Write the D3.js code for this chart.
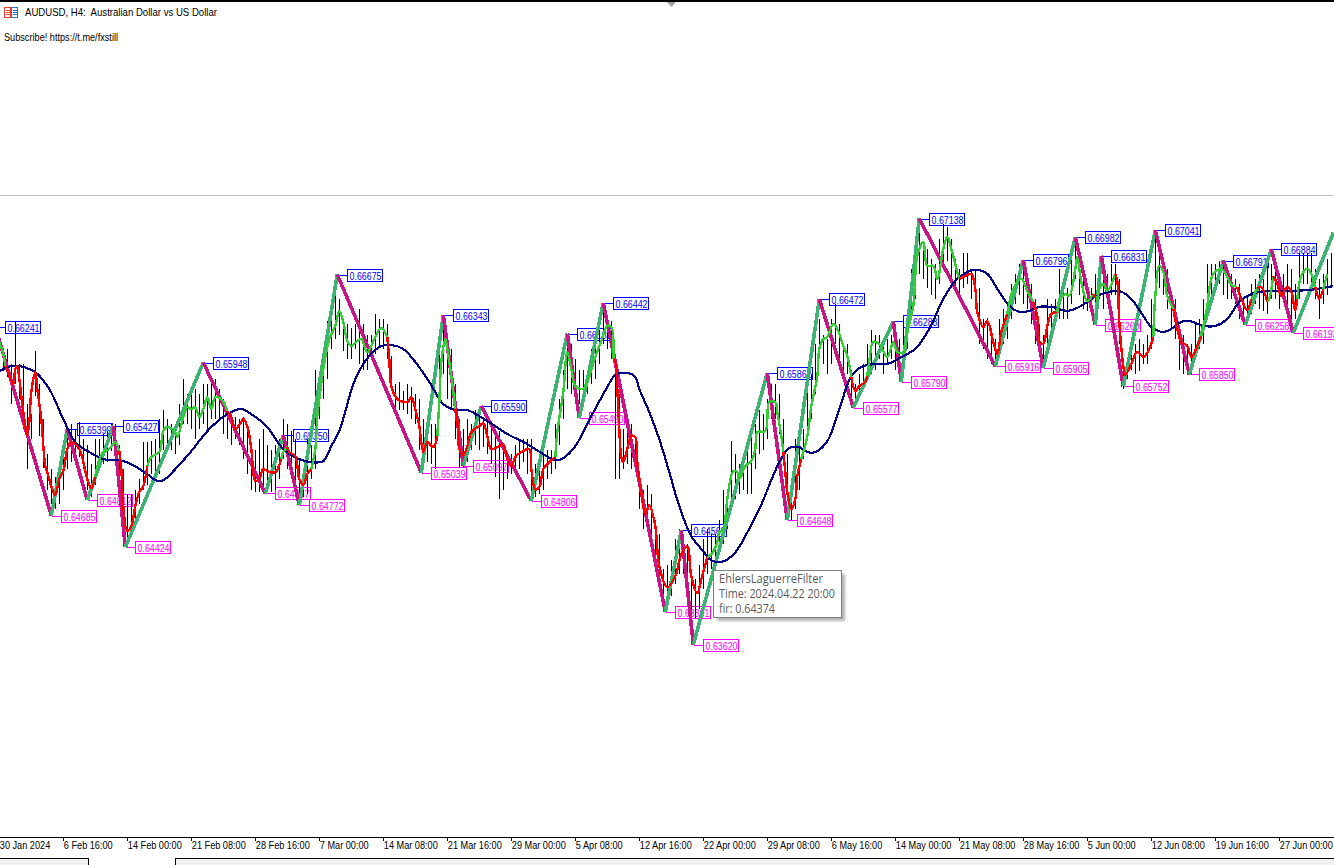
<!DOCTYPE html>
<html>
<head>
<meta charset="utf-8">
<title>AUDUSD, H4</title>
<script src="https://d3js.org/d3.v7.min.js"></script>
<style>
html, body { margin: 0; padding: 0; background: #fff; overflow: hidden; }
svg { display: block; }
text { font-family: "Liberation Sans", sans-serif; }
.crisp { shape-rendering: crispEdges; }
</style>
</head>
<body>
<svg width="1334" height="865"></svg>
<script>
// time axis, one label every 32 H4 bars
var tickLabels = ["30 Jan 2024", "6 Feb 16:00", "14 Feb 00:00", "21 Feb 08:00", "28 Feb 16:00", "7 Mar 00:00", "14 Mar 08:00",
  "21 Mar 16:00", "29 Mar 00:00", "5 Apr 08:00", "12 Apr 16:00", "22 Apr 00:00", "29 Apr 08:00", "6 May 16:00", "14 May 00:00",
  "21 May 08:00", "28 May 16:00", "5 Jun 00:00", "12 Jun 08:00", "19 Jun 16:00", "27 Jun 00:00"];
var tickBars = [0, 32, 64, 96, 128, 160, 192, 224, 256, 288, 320, 352, 384, 416, 448, 480, 512, 544, 576, 608, 640];

// zigzag pivots, high first, then alternating. The last point has no label
var pivotBars = [-2, 26, 34, 44, 57, 63, 102, 133, 142, 150, 169, 211, 222, 232, 241, 266, 284, 290, 302, 333, 341, 347, 384, 394, 410, 427, 447, 451, 460,
  498, 512, 522, 538, 548, 551, 562, 578, 595, 612, 623, 636, 647, 667];
var pivotPrices = [0.66241, 0.64685, 0.65399, 0.64812, 0.65427, 0.64424, 0.65948, 0.64867, 0.65350, 0.64772, 0.66675, 0.65039, 0.66343, 0.65097, 0.65590,
  0.64806, 0.66188, 0.65490, 0.66442, 0.63891, 0.64562, 0.63620, 0.65862, 0.64648, 0.66472, 0.65577, 0.66288, 0.65790, 0.67138,
  0.65916, 0.66796, 0.65905, 0.66982, 0.66260, 0.66831, 0.65752, 0.67041, 0.65850, 0.66791, 0.66258, 0.66884, 0.66193, 0.67020];

// slow navy line
var slowBars = [0, 6, 10, 15, 18, 25, 32, 38, 45, 52, 60, 66, 74, 78, 82, 88, 96, 105, 114, 121, 126, 134, 142, 150, 156, 162, 166, 170, 178, 185, 191, 196,
  202, 208, 215, 222, 228, 234, 244, 254, 264, 272, 278, 282, 288, 296, 304, 308, 314, 318, 320, 325, 330, 335, 340, 346, 352, 356, 362, 368, 374, 380, 390, 395,
  400, 404, 408, 414, 420, 426, 431, 438, 444, 452, 458, 465, 472, 478, 484, 488, 494, 499, 505, 510, 515, 520, 526, 534, 540, 548, 555, 560, 566, 572, 576, 582,
  586, 591, 595, 602, 608, 614, 620, 626, 634, 644, 655, 667];
var slowPrices = [0.65878, 0.65920, 0.65920, 0.65895, 0.65870, 0.65730, 0.65481, 0.65291, 0.65209, 0.65151, 0.65142, 0.65109, 0.65027, 0.64977, 0.64977, 0.65068,
  0.65217, 0.65399, 0.65523, 0.65564, 0.65523, 0.65415, 0.65233, 0.65151, 0.65125, 0.65134, 0.65258, 0.65382, 0.65812, 0.66003, 0.66085, 0.66093,
  0.66060, 0.65953, 0.65788, 0.65606, 0.65556, 0.65556, 0.65465, 0.65358, 0.65275, 0.65192, 0.65142, 0.65159, 0.65258, 0.65506, 0.65746, 0.65845, 0.65862, 0.65829,
  0.65730, 0.65539, 0.65316, 0.65043, 0.64762, 0.64514, 0.64390, 0.64315, 0.64307, 0.64381, 0.64546, 0.64737, 0.65125, 0.65242,
  0.65250, 0.65209, 0.65209, 0.65299, 0.65564, 0.65837, 0.65912, 0.65936, 0.65936, 0.66003, 0.66061, 0.66226, 0.66474, 0.66623, 0.66697, 0.66714, 0.66681, 0.66557,
  0.66416, 0.66367, 0.66375, 0.66408, 0.66408, 0.66375, 0.66408, 0.66491, 0.66532, 0.66540, 0.66474, 0.66333, 0.66242, 0.66201,
  0.66226, 0.66284, 0.66292, 0.66251, 0.66251, 0.66308, 0.66449, 0.66515, 0.66540, 0.66540, 0.66548, 0.66581];

// fast filter line, and the bars where it switches colour (starts green)
var fastBars = [0, 2, 3, 5, 7, 8, 9, 10, 12, 14, 15, 16, 18, 19, 21, 23, 24, 26, 28, 30, 32, 34, 36, 39, 41, 44, 46, 48, 50, 52, 55, 58, 60, 61, 62, 64, 66, 68, 70, 72, 74,
  76, 80, 82, 84, 88, 89, 92, 94, 96, 98, 100, 102, 104, 106, 108, 111, 114, 116, 118, 121, 122, 124, 126, 128, 130, 132, 135, 138, 141, 142, 144, 145, 148, 150, 152, 154, 156,
  158, 159, 160, 162, 165, 168, 170, 172, 174, 176, 179, 181, 184, 188, 191, 194, 195, 196, 199, 204, 206, 208, 210, 212, 214, 217, 219, 220, 221, 223, 224, 226, 228,
  229, 230, 232, 234, 236, 240, 242, 244, 246, 250, 252, 254, 256, 258, 261, 265, 266, 268, 270, 272, 275, 278, 279, 282, 284, 286, 288, 292, 294, 298, 301, 304, 306, 307,
  308, 309, 310, 311, 312, 314, 316, 318, 319, 321, 323, 325, 328, 330, 334, 338, 341, 344, 346, 349, 351, 354, 356, 359, 360, 362, 364, 367, 369, 370, 373, 376, 378, 379, 383, 385, 388, 389, 391, 392,
  393, 394, 396, 398, 399, 401, 404, 406, 409, 410, 412, 414, 417, 419, 422, 424, 426, 428, 430, 433, 434, 435, 437, 440, 444, 447, 449, 452, 454, 457, 459, 462, 464, 467, 469, 472, 474, 476, 479, 480,
  483, 486, 488, 489, 492, 494, 497, 499, 501, 504, 507, 511, 514, 517, 519, 520, 522, 524, 526, 529, 530, 533, 535, 538, 539, 541, 544, 547, 549, 550, 552, 554, 558,
  559, 560, 562, 563, 566, 569, 572, 575, 577, 578, 580, 582, 584, 587, 589, 591, 594, 596, 599, 601, 604, 605, 607, 611, 614, 616, 619, 621, 624, 626, 629, 631, 634, 635, 637, 639, 641, 644, 646, 648, 649,
  651, 654, 656, 658, 660, 662, 664, 667];
var fastPrices = [0.66118, 0.66019, 0.65920, 0.65837, 0.65771, 0.65895, 0.65920, 0.65812, 0.65539, 0.65349, 0.65457, 0.65705, 0.65870, 0.65730, 0.65481, 0.65093, 0.65043, 0.64928, 0.64853, 0.64986, 0.65052, 0.65234, 0.65291, 0.65258, 0.65192, 0.64986, 0.64911, 0.65002,
  0.65151, 0.65209, 0.65234, 0.65291, 0.65217, 0.65068, 0.64762, 0.64555, 0.64597, 0.64762, 0.64878, 0.64928, 0.65093,
  0.65168, 0.65209, 0.65382, 0.65416, 0.65374, 0.65333, 0.65498, 0.65581, 0.65564, 0.65581, 0.65498, 0.65564, 0.65663, 0.65564, 0.65663, 0.65647, 0.65548, 0.65498, 0.65399, 0.65457, 0.65481, 0.65423, 0.65234, 0.64969, 0.64986, 0.65068, 0.65043, 0.65043, 0.65151, 0.65209, 0.65250, 0.65209, 0.65176, 0.64986, 0.64936, 0.65027, 0.65068,
  0.65234, 0.65506, 0.65647, 0.65895, 0.66143, 0.66251, 0.66375, 0.66284, 0.66127, 0.66085, 0.66127, 0.66143, 0.66036, 0.66160, 0.66234, 0.66160, 0.65978, 0.65755, 0.65647, 0.65622, 0.65663, 0.65564, 0.65424, 0.65209, 0.65291, 0.65250, 0.65341, 0.65622, 0.65953, 0.66143, 0.66061, 0.65837, 0.65564,
  0.65481, 0.65234, 0.65184, 0.65258, 0.65374, 0.65424, 0.65448, 0.65341, 0.65234, 0.65258, 0.65275, 0.65151, 0.65093, 0.65168, 0.65209, 0.65234, 0.65068, 0.64902, 0.64919, 0.65068, 0.65126, 0.65168, 0.65374, 0.65705, 0.66036, 0.65895, 0.65755, 0.65730, 0.65788, 0.65994, 0.66127, 0.66251, 0.66242, 0.65978,
  0.65961, 0.65730, 0.65399, 0.65167, 0.65126, 0.65234, 0.65341, 0.65333, 0.65126, 0.64878, 0.64696, 0.64770, 0.64596, 0.64265, 0.64092, 0.64183, 0.64365, 0.64431, 0.64183, 0.64042, 0.64158, 0.64340, 0.64365, 0.64464, 0.64547, 0.64571, 0.64820, 0.65052, 0.65043, 0.64986, 0.65093, 0.65134, 0.65234, 0.65374, 0.65382, 0.65622, 0.65622, 0.65539, 0.65341, 0.65209,
  0.65043, 0.64878, 0.64737, 0.64820, 0.65010, 0.65151, 0.65341, 0.65589, 0.65837, 0.66061, 0.66143, 0.66160, 0.66267, 0.66226, 0.66085, 0.66003, 0.65829, 0.65713, 0.65754, 0.65787, 0.65837, 0.65961, 0.66118, 0.66102, 0.65994, 0.66118, 0.66036, 0.66036, 0.66201, 0.66416, 0.66829, 0.66945, 0.66747, 0.66747, 0.66639, 0.66887, 0.66987, 0.66887, 0.66697, 0.66639,
  0.66664, 0.66681, 0.66557, 0.66367, 0.66242, 0.66292, 0.66118, 0.66019, 0.66201, 0.66350, 0.66557, 0.66639, 0.66540, 0.66449, 0.66333, 0.66127, 0.66102, 0.66251, 0.66350, 0.66366, 0.66449, 0.66515, 0.66498, 0.66722, 0.66821, 0.66615, 0.66457, 0.66515, 0.66457, 0.66557, 0.66598, 0.66540, 0.66681,
  0.66623, 0.66284, 0.65920, 0.65846, 0.65936, 0.66036, 0.65994, 0.66061, 0.66160, 0.66499, 0.66747, 0.66697, 0.66499, 0.66391, 0.66226, 0.66118, 0.66085, 0.65994, 0.66085, 0.66168, 0.66416, 0.66557, 0.66681, 0.66722, 0.66656, 0.66590, 0.66573, 0.66474, 0.66383, 0.66474, 0.66557, 0.66573, 0.66449, 0.66474, 0.66664, 0.66598, 0.66499, 0.66573, 0.66532, 0.66375, 0.66474,
  0.66664, 0.66722, 0.66681, 0.66573, 0.66474, 0.66557, 0.66681, 0.66739];
var fastFlips = [5, 50, 61, 76, 116, 142, 145, 158, 195, 220, 229, 279, 308, 356, 393, 404, 428, 435, 483, 507, 519, 530, 549, 550, 559, 578, 589, 604, 621, 629, 631, 635, 639, 651, 660, 664];

// price sticks, every second bar, in 1/10000
var stickHigh = [6612, 6606, 6606, 6594, 6628, 6594, 6594, 6561, 6552, 6604, 6577, 6548, 6519, 6507, 6500, 6511, 6527, 6538, 6544, 6540, 6546, 6532, 6527, 6511, 6532, 6532, 6536, 6538, 6545, 6544,
  6527, 6507, 6486, 6486, 6490, 6499, 6529, 6529, 6530, 6532, 6548, 6556, 6548, 6544, 6544, 6561, 6581, 6569, 6569, 6573, 6569, 6577, 6577, 6579, 6581, 6573, 6565, 6556, 6552, 6550,
  6548, 6550, 6544, 6527, 6523, 6532, 6540, 6527, 6523, 6527, 6532, 6548, 6544, 6538, 6532, 6515, 6505, 6532, 6527, 6589, 6581, 6606, 6629, 6635, 6656, 6647, 6631, 6627, 6623, 6627,
  6639, 6627, 6618, 6618, 6635, 6631, 6631, 6627, 6600, 6577, 6579, 6571, 6577, 6575, 6569, 6565, 6548, 6544, 6544, 6544, 6614, 6632, 6618, 6606, 6577, 6548, 6540, 6548, 6544, 6556,
  6552, 6548, 6548, 6540, 6540, 6538, 6527, 6519, 6519, 6527, 6532, 6532, 6532, 6532, 6511, 6511, 6523, 6523, 6523, 6544, 6565, 6589, 6614, 6610, 6598, 6589, 6589, 6589, 6606, 6618,
  6631, 6639, 6631, 6629, 6598, 6569, 6540, 6552, 6544, 6532, 6499, 6490, 6494, 6486, 6465, 6453, 6424, 6428, 6432, 6449, 6457, 6453, 6445, 6424, 6416, 6428, 6449, 6457, 6453, 6453,
  6465, 6490, 6490, 6530, 6519, 6511, 6519, 6523, 6540, 6544, 6556, 6552, 6565, 6577, 6577, 6569, 6548, 6519, 6499, 6532, 6527, 6540, 6573, 6585, 6610, 6631, 6618, 6614, 6631, 6643,
  6627, 6610, 6610, 6589, 6577, 6585, 6594, 6610, 6622, 6618, 6618, 6614, 6614, 6618, 6610, 6614, 6631, 6639, 6672, 6693, 6709, 6693, 6689, 6680, 6676, 6697, 6709, 6707, 6697, 6680,
  6672, 6685, 6685, 6672, 6672, 6656, 6631, 6632, 6623, 6614, 6631, 6639, 6643, 6660, 6668, 6676, 6672, 6668, 6660, 6647, 6627, 6618, 6647, 6643, 6647, 6672, 6660, 6656, 6685, 6697,
  6685, 6664, 6660, 6656, 6668, 6672, 6668, 6668, 6676, 6676, 6664, 6598, 6598, 6610, 6610, 6614, 6610, 6618, 6647, 6697, 6689, 6676, 6672, 6651, 6647, 6623, 6618, 6610, 6610, 6627,
  6631, 6647, 6676, 6676, 6676, 6679, 6676, 6672, 6668, 6664, 6660, 6647, 6651, 6660, 6664, 6668, 6664, 6676, 6676, 6676, 6664, 6668, 6676, 6672, 6660, 6685, 6685, 6685, 6685, 6672,
  6664, 6668, 6680, 6685];
var stickLow = [6587, 6588, 6583, 6561, 6577, 6565, 6540, 6507, 6532, 6567, 6534, 6508, 6490, 6478, 6474, 6478, 6490, 6507, 6513, 6519, 6517, 6507, 6490, 6484, 6494, 6507, 6511, 6513, 6522, 6515,
  6482, 6457, 6445, 6453, 6465, 6478, 6490, 6494, 6503, 6500, 6503, 6523, 6527, 6523, 6519, 6527, 6544, 6544, 6540, 6532, 6540, 6544, 6540, 6548, 6548, 6548, 6536, 6532, 6527, 6532,
  6527, 6515, 6503, 6490, 6488, 6488, 6490, 6490, 6488, 6490, 6499, 6515, 6507, 6499, 6486, 6478, 6484, 6486, 6499, 6507, 6548, 6565, 6581, 6606, 6614, 6618, 6604, 6598, 6598, 6606,
  6594, 6589, 6589, 6598, 6602, 6608, 6606, 6598, 6573, 6555, 6556, 6556, 6552, 6548, 6544, 6523, 6507, 6513, 6511, 6507, 6565, 6585, 6565, 6556, 6532, 6508, 6508, 6513, 6523, 6527,
  6523, 6525, 6519, 6511, 6500, 6482, 6490, 6499, 6503, 6507, 6507, 6513, 6503, 6484, 6484, 6486, 6490, 6499, 6503, 6507, 6527, 6548, 6573, 6569, 6569, 6561, 6567, 6569, 6577, 6581,
  6594, 6610, 6606, 6598, 6499, 6499, 6507, 6511, 6507, 6507, 6474, 6457, 6470, 6453, 6428, 6412, 6395, 6399, 6402, 6412, 6420, 6420, 6408, 6384, 6383, 6391, 6408, 6420, 6424, 6428,
  6441, 6445, 6457, 6478, 6482, 6486, 6490, 6486, 6486, 6507, 6519, 6523, 6532, 6548, 6548, 6536, 6515, 6482, 6465, 6474, 6490, 6515, 6532, 6548, 6569, 6598, 6594, 6585, 6594, 6610,
  6598, 6585, 6585, 6563, 6565, 6569, 6577, 6585, 6585, 6589, 6598, 6585, 6594, 6598, 6589, 6585, 6594, 6606, 6631, 6647, 6668, 6664, 6656, 6651, 6647, 6660, 6676, 6679, 6664, 6656,
  6650, 6656, 6660, 6647, 6639, 6610, 6606, 6598, 6594, 6594, 6602, 6610, 6614, 6631, 6643, 6651, 6643, 6639, 6627, 6610, 6606, 6596, 6606, 6618, 6627, 6631, 6631, 6631, 6643, 6664,
  6651, 6639, 6637, 6639, 6631, 6647, 6639, 6643, 6651, 6651, 6610, 6573, 6581, 6589, 6585, 6588, 6594, 6594, 6606, 6643, 6656, 6651, 6639, 6623, 6614, 6589, 6585, 6589, 6585, 6598,
  6606, 6610, 6639, 6651, 6656, 6660, 6651, 6647, 6647, 6643, 6631, 6627, 6631, 6635, 6643, 6639, 6637, 6635, 6647, 6647, 6639, 6647, 6643, 6627, 6631, 6647, 6660, 6660, 6656, 6647,
  6631, 6643, 6651, 6656];

var svg = d3.select("svg");

var x = d3.scaleLinear().domain([0, 667]).range([-0.7, 1333.3]);
var y = d3.scaleLinear().domain(d3.extent(pivotPrices.slice(0, -1))).range([644.5, 218.5]);

// helper, width forces the text into the size it has in the window font
function label(parent, tx, ty, str, width, size, colour) {
  return parent.append("text")
    .attr("x", tx).attr("y", ty)
    .attr("font-size", size)
    .attr("fill", colour)
    .attr("textLength", width)
    .attr("lengthAdjust", "spacingAndGlyphs")
    .attr("xml:space", "preserve")
    .text(str);
}

// window furniture
svg.append("rect").attr("class", "crisp").attr("x", 0).attr("y", 0).attr("width", 1334).attr("height", 2).attr("fill", "#000");
svg.append("path").attr("d", "M667,2 L676,2 L671.5,7 Z").attr("fill", "#a0a0a0");
svg.append("rect").attr("class", "crisp").attr("x", 0).attr("y", 195).attr("width", 1334).attr("height", 1).attr("fill", "#c0c0c0");

// header icon
var icon = svg.append("g").attr("class", "crisp");
icon.append("rect").attr("x", 4.5).attr("y", 7.5).attr("width", 6).attr("height", 10).attr("fill", "#fff").attr("stroke", "#e8402a");
icon.append("rect").attr("x", 11.5).attr("y", 7.5).attr("width", 6).attr("height", 10).attr("fill", "#fff").attr("stroke", "#1f78c8");
[10, 12, 14].forEach(function(ly) {
  icon.append("rect").attr("x", 6).attr("y", ly).attr("width", 4).attr("height", 1).attr("fill", "#e8402a");
  icon.append("rect").attr("x", 13).attr("y", ly).attr("width", 4).attr("height", 1).attr("fill", "#1f78c8");
});

label(svg, 25, 16, "AUDUSD, H4:  Australian Dollar vs US Dollar", 192, 11, "#000");
label(svg, 4, 41, "Subscribe! https://t.me/fxstill", 114, 11, "#000");

// pivot labels go under everything else
var pivots = pivotBars.slice(0, -1).map(function(b, i) {
  return {bar: b, price: pivotPrices[i], high: i % 2 === 0};
});
var tags = svg.append("g").selectAll("g").data(pivots).enter().append("g");
tags.each(function(d) {
  var g = d3.select(this),
      px = Math.round(x(d.bar)) + 0.5,
      py = Math.round(y(d.price)) + 0.5,
      col = d.high ? "#0000ff" : "#ff00ff";
  g.append("line").attr("class", "crisp").attr("x1", px).attr("x2", px + 10).attr("y1", py).attr("y2", py).attr("stroke", col);
  g.append("rect").attr("class", "crisp").attr("x", px + 10).attr("y", py - 6).attr("width", 35).attr("height", 12)
    .attr("fill", "#fff").attr("stroke", col);
  label(g, px + 12, py + 4, d.price.toFixed(5), 32, 10.5, col);
});

// sticks
svg.append("g").attr("class", "crisp").selectAll("line").data(stickHigh).enter().append("line")
  .attr("x1", function(d, i) { return Math.round(x(i * 2)) + 0.5; })
  .attr("x2", function(d, i) { return Math.round(x(i * 2)) + 0.5; })
  .attr("y1", function(d) { return y(d / 10000); })
  .attr("y2", function(d, i) { return y(stickLow[i] / 10000); })
  .attr("stroke", "#000");

// zigzag legs
svg.append("g").attr("class", "crisp").selectAll("line").data(pivotBars.slice(1)).enter().append("line")
  .attr("x1", function(d, i) { return x(pivotBars[i]); })
  .attr("y1", function(d, i) { return y(pivotPrices[i]); })
  .attr("x2", function(d) { return x(d); })
  .attr("y2", function(d, i) { return y(pivotPrices[i + 1]); })
  .attr("stroke", function(d, i) { return pivotPrices[i + 1] < pivotPrices[i] ? "#c71585" : "#3cb371"; })
  .attr("stroke-width", 3.6);

var line = d3.line()
  .x(function(d) { return x(d[0]); })
  .y(function(d) { return y(d[1]); })
  .curve(d3.curveCatmullRom.alpha(0.5));

// slow line
svg.append("path").attr("class", "crisp")
  .attr("d", line(d3.zip(slowBars, slowPrices)))
  .attr("fill", "none").attr("stroke", "#000080").attr("stroke-width", 2.2);

// fast line, cut at the colour flips
var fastPoints = d3.zip(fastBars, fastPrices);
var edges = [fastBars[0]].concat(fastFlips, [fastBars[fastBars.length - 1]]);
d3.range(edges.length - 1).forEach(function(i) {
  var from = fastBars.indexOf(edges[i]), to = fastBars.indexOf(edges[i + 1]);
  svg.append("path").attr("class", "crisp")
    .attr("d", line(fastPoints.slice(Math.max(from - 1, 0), to)))
    .attr("fill", "none")
    .attr("stroke", i % 2 === 0 ? "#32cd32" : "#ff0000")
    .attr("stroke-width", 2.4);
});

// tooltip
var tip = svg.append("g");
var blur = svg.append("defs").append("filter").attr("id", "soft");
blur.append("feGaussianBlur").attr("stdDeviation", 1.5);
tip.append("rect").attr("x", 717).attr("y", 574).attr("width", 128).attr("height", 47).attr("fill", "#000").attr("opacity", 0.3).attr("filter", "url(#soft)");
tip.append("rect").attr("class", "crisp").attr("x", 713.5).attr("y", 570.5).attr("width", 128).attr("height", 47).attr("fill", "#fff").attr("stroke", "#808080");
label(tip, 719, 583, "EhlersLaguerreFilter", 104, 12, "#5a5a5a").style("font-family", "'Open Sans'");
label(tip, 719, 598, "Time: 2024.04.22 20:00", 116, 12, "#5a5a5a").style("font-family", "'Open Sans'");
label(tip, 719, 613, "fir: 0.64374", 56, 12, "#5a5a5a").style("font-family", "'Open Sans'");

// bottom time axis
var axis = d3.axisBottom(x)
  .tickValues(tickBars)
  .tickSize(4)
  .tickSizeOuter(0)
  .tickFormat(function(d, i) { return tickLabels[i]; });
var axisG = svg.append("g").attr("class", "crisp").attr("transform", "translate(0,836.5)").call(axis);
axisG.attr("font-family", null).attr("font-size", null);
var tickText = axisG.selectAll("text")
  .attr("text-anchor", "start").attr("x", 0).attr("y", 5).attr("dy", "0.71em")
  .attr("font-size", 10).attr("fill", "#000");
// 14 Feb 00:00 is 54px wide in the window, squeeze the others by the same factor
var squeeze = 54 / tickText.filter(function(d, i) { return i === 2; }).node().getComputedTextLength();
tickText.each(function() {
  d3.select(this).attr("textLength", this.getComputedTextLength() * squeeze).attr("lengthAdjust", "spacingAndGlyphs");
});

// chart tabs at the very bottom
svg.append("rect").attr("class", "crisp").attr("x", 0).attr("y", 859).attr("width", 1334).attr("height", 6).attr("fill", "#f0f0f0");
svg.append("rect").attr("class", "crisp").attr("x", 0).attr("y", 858).attr("width", 1334).attr("height", 1).attr("fill", "#000");
svg.append("rect").attr("class", "crisp").attr("x", 89).attr("y", 858).attr("width", 86).attr("height", 7).attr("fill", "#fff");
svg.append("rect").attr("class", "crisp").attr("x", 175).attr("y", 858).attr("width", 1).attr("height", 7).attr("fill", "#000");
svg.append("rect").attr("class", "crisp").attr("x", 88).attr("y", 858).attr("width", 1).attr("height", 7).attr("fill", "#000");
label(svg, 103, 873, "AUDUSD,H4", 60, 11, "#1a3f8f");
</script>
</body>
</html>
